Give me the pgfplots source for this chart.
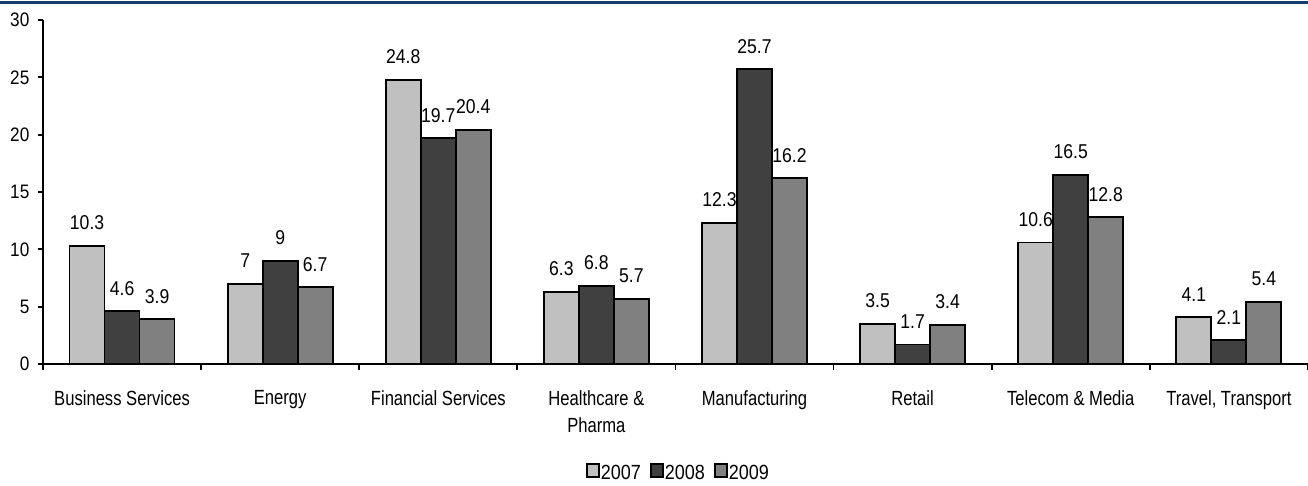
\documentclass[border=0pt]{standalone}
\usepackage{pgfplots}
\pgfplotsset{compat=1.18}
\usepackage{fontspec}
\setmainfont{Liberation Sans}[FakeStretch=0.88]
\newfontfamily\catfont{Liberation Sans}[FakeStretch=0.81]
\definecolor{c2007}{RGB}{192,192,192}
\definecolor{c2008}{RGB}{64,64,64}
\definecolor{c2009}{RGB}{128,128,128}
\definecolor{topbar}{RGB}{20,60,110}
\begin{document}
\begin{tikzpicture}[x=1pt,y=1pt]
\path[use as bounding box] (0,0) rectangle (1308,485);
\draw[topbar, line width=3pt] (0,482.3) -- (1308,482.3);
\begin{axis}[
  at={(43pt,121pt)}, anchor=south west,
  scale only axis, width=1265pt, height=344pt,
  /pgf/number format/assume math mode=true,
  ybar=0pt, bar width=35pt,
  ymin=0, ymax=30, ytick={0,5,...,30},
  xmin=-0.5, xmax=7.5,
  xtick={-0.5,0.5,...,7.5},
  xticklabels={Business Services,Energy,Financial Services,{Healthcare \&\\Pharma},Manufacturing,Retail,{Telecom \& Media},{Travel, Transport},{}},
  xticklabel style={xshift=79.06pt, anchor=north, align=center, inner sep=0pt, yshift=-21pt,
    font=\catfont\fontsize{20.5}{27}\selectfont},
  yticklabel style={anchor=east, inner sep=0pt, xshift=-8pt, font=\fontsize{19.5}{22}\selectfont},
  axis x line*=bottom, axis y line*=left,
  axis line style={line width=1.8pt, black},
  tick align=outside, major tick length=5.5pt,
  tick style={line width=1.8pt, black},
  every axis plot/.append style={draw=black, line width=1.8pt},
  nodes near coords,
  every node near coord/.append style={font=\fontsize{20}{22}\selectfont, black, inner sep=0pt, anchor=south, yshift=15pt},
  legend columns=3,
  legend style={at={(0.502,-0.315)}, anchor=center, draw=none, fill=none,
    font=\fontsize{20.5}{24}\selectfont,
    nodes={inner sep=1pt},
    /tikz/every even column/.append style={column sep=8pt}},
  legend image code/.code={\draw[#1, draw=black, line width=1.8pt] (0pt,-4pt) rectangle (12pt,9pt);},
  clip=false,
]
\addplot[fill=c2007] coordinates {(0,10.3) (1,7) (2,24.8) (3,6.3) (4,12.3) (5,3.5) (6,10.6) (7,4.1)};
\addplot[fill=c2008] coordinates {(0,4.6) (1,9) (2,19.7) (3,6.8) (4,25.7) (5,1.7) (6,16.5) (7,2.1)};
\addplot[fill=c2009] coordinates {(0,3.9) (1,6.7) (2,20.4) (3,5.7) (4,16.2) (5,3.4) (6,12.8) (7,5.4)};
\legend{2007,2008,2009}
\end{axis}
\end{tikzpicture}
\end{document}
